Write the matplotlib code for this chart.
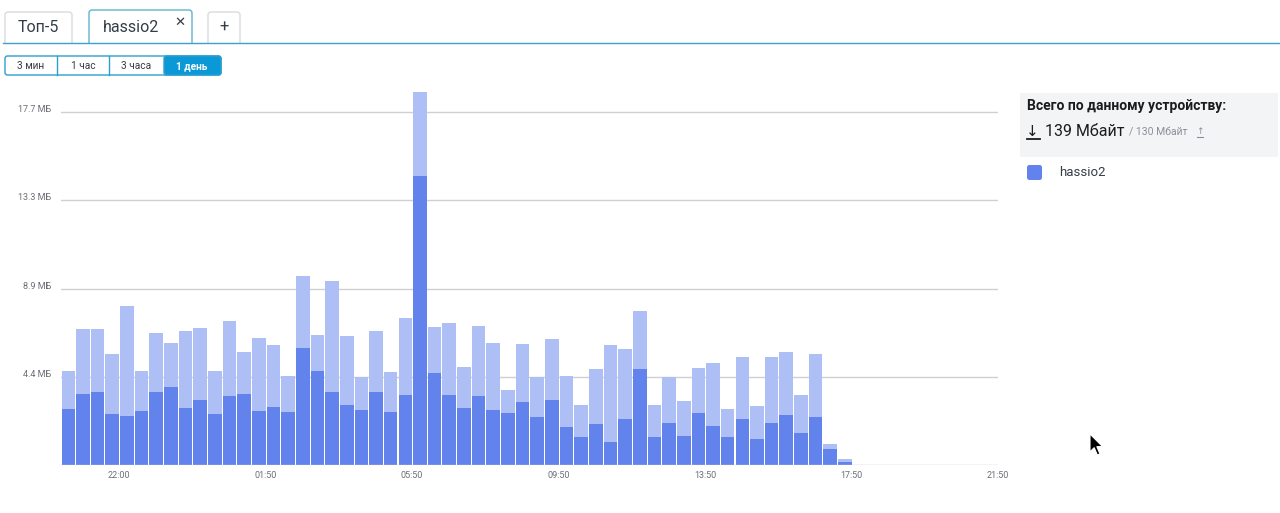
import matplotlib
matplotlib.use('Agg')
import matplotlib.pyplot as plt
from matplotlib.patches import FancyBboxPatch, Rectangle, Polygon

plt.rcParams['font.family'] = ['Roboto', 'DejaVu Sans']

W, H = 1280, 513

# traffic per 24-minute slot, MB (dark = lower part, light = upper part)
dark = [2.81, 3.58, 3.67, 2.55, 2.48, 2.71, 3.68, 3.90, 2.88, 3.25,
        2.55, 3.47, 3.58, 2.70, 2.91, 2.68, 5.89, 4.71, 3.65, 3.02,
        2.76, 3.67, 2.68, 3.53, 14.51, 4.61, 3.53, 2.88, 3.47, 2.75,
        2.63, 3.15, 2.43, 3.28, 1.92, 1.42, 2.05, 1.16, 2.33, 4.81,
        1.42, 2.11, 1.47, 2.60, 1.94, 1.41, 2.30, 1.31, 2.10, 2.53,
        1.59, 2.41, 0.80, 0.15]
light = [1.91, 3.24, 3.15, 3.04, 5.49, 2.00, 2.97, 2.25, 3.87, 3.63,
         2.19, 3.77, 2.08, 3.70, 3.12, 1.81, 3.62, 1.84, 5.61, 3.46,
         1.66, 3.05, 1.99, 3.86, 4.22, 2.31, 3.61, 2.04, 3.51, 3.37,
         1.14, 2.92, 1.99, 3.07, 2.57, 1.60, 2.77, 4.87, 3.51, 2.93,
         1.60, 2.30, 1.73, 2.27, 3.20, 1.40, 3.14, 1.67, 3.34, 3.15,
         1.94, 3.17, 0.26, 0.15]
x_labels = ['22:00', '01:50', '05:50', '09:50', '13:50', '17:50', '21:50']
y_ticks = [4.43, 8.86, 13.29, 17.72]
y_labels = ['4.4 МБ', '8.9 МБ', '13.3 МБ', '17.7 МБ']

dark_c = '#6283ec'
light_c = '#adbff5'
teal = '#2c9fcf'
txt = '#333d47'

fig = plt.figure(figsize=(W / 100, H / 100), dpi=100)

# ---- page furniture in pixel coordinates
ui = fig.add_axes([0, 0, 1, 1])
ui.set_xlim(0, W)
ui.set_ylim(H, 0)
ui.axis('off')

def box(x0, y0, x1, y1, ec, fc='white', r=3, lw=1):
    ui.add_patch(FancyBboxPatch((x0, y0), x1 - x0, y1 - y0,
                                boxstyle='round,pad=0,rounding_size=%g' % r,
                                ec=ec, fc=fc, lw=lw))

# tabs
box(5, 12, 72, 46, '#d8dadd')
box(89, 10, 192, 46, '#5fb3cf')
box(208, 12, 240, 46, '#d8dadd')
ui.add_patch(Rectangle((0, 43), W, 10, fc='white', ec='none', zorder=3))
ui.plot([3, W], [42.5, 42.5], color='#3aa3cc', lw=1, zorder=4)
ui.text(38, 27, 'Топ-5', ha='center', va='center', fontsize=11.5, color=txt)
ui.text(131, 27, 'hassio2', ha='center', va='center', fontsize=11.5, color=txt)
ui.text(180, 22, '✕', ha='center', va='center', fontsize=9.5, color=txt,
        fontweight='bold', family=['DejaVu Sans'])
ui.text(224, 27, '+', ha='center', va='center', fontsize=12, color=txt)

# range buttons
box(5, 56, 221, 75, teal, r=2.5)
box(164, 56, 221, 75, teal, fc='#0b98d6', r=2.5)
for xb in [57, 109]:
    ui.plot([xb, xb], [56, 75], color=teal, lw=1)
for xc, lab in [(31, '3 мин'), (83, '1 час'), (136, '3 часа')]:
    ui.text(xc, 66, lab, ha='center', va='center', fontsize=7.3, color=txt)
ui.text(192, 66, '1 день', ha='center', va='center', fontsize=7.3,
        color='white', fontweight='bold')

# totals panel
ui.add_patch(Rectangle((1020, 93), 258, 64, fc='#f3f4f6', ec='none'))
ui.text(1027, 106, 'Всего по данному устройству:', ha='left', va='center',
        fontsize=10, fontweight='bold', color='#1c1c1c')
ui.text(1026, 131, '↓', ha='left', va='center', fontsize=11, color='#1c1c1c',
        family=['DejaVu Sans'])
ui.plot([1027, 1040], [138.5, 138.5], color='#1c1c1c', lw=1.3)
ui.text(1045, 131, '139 Мбайт', ha='left', va='center', fontsize=11.5,
        color='#1c1c1c')
ui.text(1129, 132, '/ 130 Мбайт', ha='left', va='center', fontsize=7.5,
        color='#8a8f96')
ui.text(1196, 132, '↑', ha='left', va='center', fontsize=6.5,
        color='#8a8f96', family=['DejaVu Sans'])
ui.plot([1197, 1203], [136.5, 136.5], color='#8a8f96', lw=0.8)

# legend
box(1027, 165, 1042, 180, 'none', fc=dark_c, r=2.5)
ui.text(1059, 172, 'hassio2', ha='left', va='center', fontsize=9.5, color=txt)

# mouse pointer
pts = [(0, 0), (0, 17), (4, 13), (7, 20), (9.5, 19), (6.5, 12), (12, 12)]
ui.add_patch(Polygon([(1090 + 1.05 * a, 434 + 1.05 * b) for a, b in pts],
                     closed=True, fc='black', ec='white', lw=0.8))

# ---- chart
left, right, top, bottom = 61, 998, 92, 465
ax = fig.add_axes([left / W, 1 - bottom / H, (right - left) / W,
                   (bottom - top) / H])
ax.set_facecolor('none')
xs = [i + 0.5 for i in range(len(dark))]
ax.bar(xs, dark, width=0.93, color=dark_c, zorder=2)
ax.bar(xs, light, bottom=dark, width=0.93, color=light_c, zorder=2)

ax.set_xlim(0, 63.95)
ax.set_ylim(0, 18.74)
ax.set_xticks([3.95 + 10 * k for k in range(len(x_labels))])
ax.set_xticklabels(x_labels)
ax.set_yticks(y_ticks)
ax.set_yticklabels(y_labels, va='baseline')
ax.tick_params(length=0, labelsize=6.5, labelcolor='#6b6f75')
ax.tick_params(axis='x', pad=4)
ax.tick_params(axis='y', pad=7)
for yt in y_ticks:
    ax.axhline(yt, color='#cfd0d6', lw=1, zorder=1)
ax.axhline(0, color='#c4c6cc', lw=1, zorder=3)
for s in ax.spines.values():
    s.set_visible(False)

fig.savefig('out.png', dpi=100)
